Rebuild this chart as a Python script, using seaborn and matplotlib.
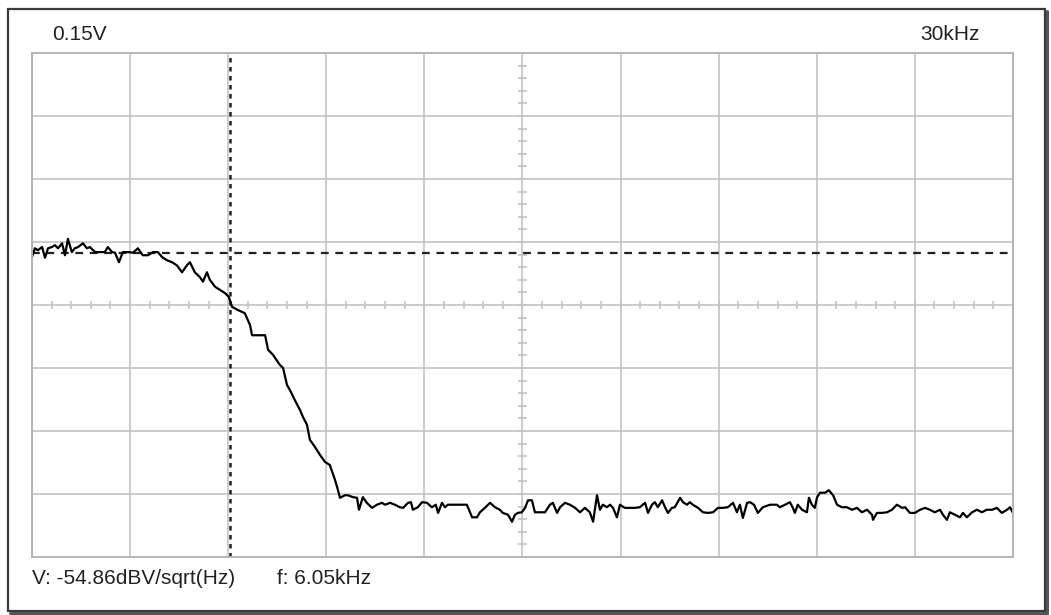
import numpy as np
import pandas as pd
import matplotlib.pyplot as plt
import seaborn as sns
from matplotlib.patches import Rectangle

sns.set_theme(style="white")
plt.rcParams['font.family'] = ['Liberation Sans', 'DejaVu Sans']

# 频谱读数：频率 (kHz)，电平 (格, 0..8 自下而上)
freq_khz = [
    0.00, 0.09, 0.18, 0.31, 0.40, 0.49, 0.61, 0.70, 0.80, 0.92, 1.01, 1.10, 1.22, 1.31, 1.41, 1.56,
    1.68, 1.77, 1.93, 2.08, 2.23, 2.32, 2.45, 2.54, 2.66, 2.78, 2.94, 3.09, 3.24, 3.39, 3.55, 3.70,
    3.85, 3.98, 4.13, 4.28, 4.43, 4.59, 4.74, 4.83, 4.98, 5.14, 5.23, 5.35, 5.44, 5.60, 5.75, 5.90, 6.02,
    6.12, 6.30, 6.51, 6.67, 6.73, 6.91, 7.13, 7.22, 7.37, 7.58, 7.68, 7.80, 7.89, 8.04, 8.20, 8.29,
    8.41, 8.50, 8.65, 8.81, 8.96, 9.11, 9.27, 9.36, 9.42, 9.57,
    9.66, 9.82, 9.94, 10.00, 10.12, 10.24, 10.40, 10.55, 10.70, 10.80, 10.95, 11.10, 11.25, 11.35,
    11.50, 11.59, 11.65, 11.80, 11.93, 12.08, 12.23, 12.35, 12.42, 12.54, 12.63, 12.72, 12.87, 13.03,
    13.18, 13.30, 13.46, 13.61, 13.70, 13.85, 14.01, 14.16, 14.31, 14.40, 14.56, 14.68, 14.77, 14.86,
    14.98, 15.08, 15.17, 15.29, 15.38, 15.54, 15.69,
    15.84, 15.93, 16.06, 16.15, 16.30, 16.45, 16.61, 16.76, 16.91, 17.06, 17.16, 17.28, 17.37, 17.46,
    17.58, 17.68, 17.77, 17.89, 17.98, 18.13, 18.29, 18.44, 18.59, 18.75, 18.84, 18.96, 19.05, 19.14,
    19.27, 19.36, 19.45, 19.57, 19.66, 19.82, 19.91, 20.03, 20.12, 20.21, 20.37, 20.52, 20.67, 20.83,
    20.98, 21.13, 21.28, 21.44, 21.56, 21.65, 21.74, 21.87, 21.96, 22.08, 22.20, 22.35, 22.57, 22.78,
    22.87, 23.03, 23.18, 23.27, 23.33, 23.42, 23.55, 23.70, 23.76, 23.85, 23.94, 24.01, 24.10, 24.25,
    24.37, 24.50, 24.62, 24.77, 24.92, 25.08, 25.23, 25.38, 25.54, 25.69, 25.72, 25.84, 25.99, 26.15,
    26.30, 26.45, 26.61, 26.70, 26.85, 27.00, 27.16, 27.31, 27.46, 27.61, 27.77, 27.86, 27.98, 28.07,
    28.23, 28.38, 28.47, 28.59, 28.75, 28.90, 29.05, 29.20, 29.36, 29.51, 29.66, 29.82, 29.91, 30.00,
]
level_div = [
    4.76, 4.90, 4.87, 4.92, 4.75, 4.90, 4.92, 4.95, 4.90, 4.98, 4.79, 5.05, 4.84, 4.90, 4.92, 4.98,
    4.90, 4.92, 4.84, 4.84, 4.84, 4.92, 4.84, 4.83, 4.68, 4.84, 4.84, 4.83, 4.90, 4.79, 4.79, 4.84,
    4.84, 4.76, 4.71, 4.68, 4.63, 4.52, 4.63, 4.68, 4.52, 4.44, 4.37, 4.52, 4.40, 4.29, 4.24, 4.19, 4.13,
    3.97, 3.92, 3.87, 3.68, 3.52, 3.52, 3.52, 3.29, 3.21, 3.05, 3.00, 2.73, 2.65, 2.49, 2.33, 2.22,
    2.10, 1.86, 1.75, 1.62, 1.51, 1.46, 1.22, 1.06, 0.94, 0.98,
    0.98, 0.95, 0.94, 0.75, 0.95, 0.86, 0.78, 0.83, 0.86, 0.83, 0.86, 0.83, 0.79, 0.78,
    0.86, 0.87, 0.75, 0.79, 0.87, 0.86, 0.79, 0.83, 0.70, 0.86, 0.79, 0.83, 0.83, 0.83,
    0.83, 0.83, 0.63, 0.63, 0.71, 0.78, 0.86, 0.79, 0.75, 0.70, 0.67, 0.56, 0.67, 0.70,
    0.71, 0.78, 0.90, 0.90, 0.71, 0.71, 0.71,
    0.83, 0.86, 0.70, 0.79, 0.86, 0.83, 0.78, 0.71, 0.78, 0.71, 0.56, 0.98, 0.75, 0.83,
    0.79, 0.83, 0.78, 0.63, 0.83, 0.78, 0.78, 0.78, 0.79, 0.86, 0.70, 0.83, 0.87, 0.79,
    0.90, 0.79, 0.70, 0.78, 0.79, 0.94, 0.87, 0.83, 0.87, 0.83, 0.78, 0.71, 0.70, 0.71,
    0.78, 0.78, 0.79, 0.86, 0.71, 0.83, 0.62, 0.86, 0.87, 0.83, 0.70, 0.79, 0.83, 0.83,
    0.79, 0.83, 0.87, 0.78, 0.70, 0.83, 0.75, 0.71, 0.94, 0.83, 0.78, 0.95, 1.02, 1.02,
    1.06, 0.98, 0.83, 0.79, 0.79, 0.75, 0.78, 0.71, 0.75, 0.67, 0.59, 0.70, 0.70, 0.71,
    0.75, 0.83, 0.78, 0.79, 0.70, 0.70, 0.75, 0.78, 0.75, 0.71, 0.75, 0.67, 0.59, 0.71,
    0.67, 0.63, 0.70, 0.63, 0.71, 0.75, 0.71, 0.75, 0.75, 0.78, 0.70, 0.75, 0.79, 0.70,
]

full_scale_khz = 30
n_div_x, n_div_y = 10, 8
cursor_khz = 6.05
ref_level = 4.83
label_volts = "0.15V"
label_span = "30kHz"
label_v = "V: -54.86dBV/sqrt(Hz)"
label_f = "f: 6.05kHz"

df = pd.DataFrame({"freq": freq_khz, "level": level_div})

fig = plt.figure(figsize=(10.51, 6.15), dpi=100)
ax = fig.add_axes([0.0304, 0.0943, 0.9334, 0.8195])

grid_c = "#c4c4c4"
ax.set_xlim(0, full_scale_khz)
ax.set_ylim(0, n_div_y)
ax.set_xticks(np.linspace(0, full_scale_khz, n_div_x + 1))
ax.set_yticks(np.arange(0, n_div_y + 1))
ax.grid(True, color=grid_c, linewidth=1.2)
ax.tick_params(length=0, labelbottom=False, labelleft=False)
for s in ax.spines.values():
    s.set_color("#b4b4b4")
    s.set_linewidth(1.4)

# 中心刻度
step_x = full_scale_khz / n_div_x / 5
tx = np.arange(0, full_scale_khz + 1e-9, step_x)
ax.vlines(tx, n_div_y / 2 - 0.06, n_div_y / 2 + 0.06, color=grid_c, linewidth=1.2)
ty = np.arange(0, n_div_y + 1e-9, 0.2)
ax.hlines(ty, full_scale_khz / 2 - 0.13, full_scale_khz / 2 + 0.13, color=grid_c, linewidth=1.2)

# 光标
ax.axhline(ref_level, color="#222222", linewidth=1.6, linestyle=(0, (3.5, 3)))
ax.axvline(cursor_khz, color="#222222", linewidth=1.8, linestyle=(0, (1.8, 1.8)))

sns.lineplot(data=df, x="freq", y="level", ax=ax, color="black", linewidth=1.6,
             estimator=None, sort=False)
ax.set_xlabel("")
ax.set_ylabel("")

txt = dict(fontsize=15, color="#222222", va="center")
fig.text(52 / 1051, 1 - 35 / 615, label_volts, ha="left", **txt)
fig.text(980 / 1051, 1 - 35 / 615, label_span, ha="right", **txt)
fig.text(32 / 1051, 1 - 578 / 615, label_v, ha="left", **txt)
fig.text(277 / 1051, 1 - 578 / 615, label_f, ha="left", **txt)

# 外框与阴影
fig.patches.append(Rectangle((8 / 1051, 1 - 611 / 615), 1037 / 1051, 602 / 615,
                             transform=fig.transFigure, fill=False,
                             edgecolor="#3a3a3a", linewidth=1.6))
fig.lines.append(plt.Line2D([1047 / 1051, 1047 / 1051], [1 - 613 / 615, 1 - 11 / 615],
                            transform=fig.transFigure, color="#555555", linewidth=2.2))
fig.lines.append(plt.Line2D([10 / 1051, 1047 / 1051], [1 - 613 / 615, 1 - 613 / 615],
                            transform=fig.transFigure, color="#555555", linewidth=2.2))

fig.savefig("out.png", dpi=100, facecolor="white")
